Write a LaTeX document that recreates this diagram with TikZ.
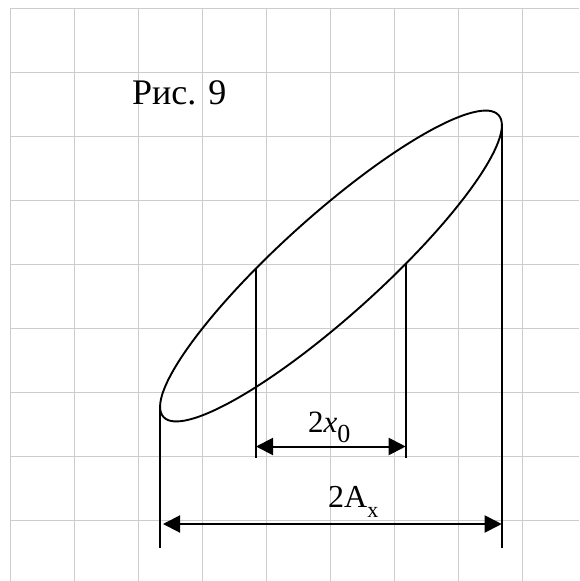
\documentclass[tikz,border=0pt]{standalone}
\usepackage{fontspec}
\setmainfont{Liberation Serif}
\usetikzlibrary{arrows.meta}
\definecolor{gridgray}{RGB}{204,204,204}
\begin{document}
\begin{tikzpicture}[x=1pt,y=-1pt,
  gridline/.style={line width=1.2pt, draw=gridgray},
  curve/.style={line width=1.9pt, draw=black},
  refline/.style={line width=1.6pt, draw=black},
  dimarrow/.style={line width=2pt, draw=black, {Triangle[length=17pt,width=17pt]}-{Triangle[length=17pt,width=17pt]}},
  label/.style={inner sep=0pt, anchor=base west}]
\useasboundingbox (0,0) rectangle (579,581);
% grid
\foreach \i in {0,...,8} {
  \draw[gridline] (10.3+64*\i,8.3) -- (10.3+64*\i,581);
  \draw[gridline] (10.3,8.3+64*\i) -- (579,8.3+64*\i);
}
% ellipse
\coordinate (c) at (331,266);
\draw[curve, rotate around={42:(c)}] (c) ellipse [x radius=225.5pt, y radius=50pt];
% reference lines
\coordinate (L1) at (160,407);
\coordinate (L2) at (160,548);
\coordinate (R1) at (501.7,125);
\coordinate (R2) at (501.7,548);
\coordinate (I1) at (256,269);
\coordinate (I2) at (256,458);
\coordinate (J1) at (405.7,263);
\coordinate (J2) at (405.7,458);
\draw[refline] (L1) -- (L2);
\draw[refline] (R1) -- (R2);
\draw[refline] (I1) -- (I2);
\draw[refline] (J1) -- (J2);
% dimension arrows
\coordinate (a1) at (256,446.5);
\coordinate (a2) at (405.7,446.5);
\coordinate (b1) at (163,524);
\coordinate (b2) at (501.7,524);
\draw[dimarrow] (a1) -- (a2);
\draw[dimarrow] (b1) -- (b2);
% labels
\node[label] (title) at (132,104) {\fontsize{36}{36}\selectfont Рис. 9};
\node[label] (lx) at (308,432) {\fontsize{31}{31}\selectfont 2\textit{x}\raisebox{-10pt}{\fontsize{26}{26}\selectfont 0}};
\node[label] (lA) at (328,507) {\fontsize{32}{32}\selectfont 2A\raisebox{-10pt}{\fontsize{22}{22}\selectfont x}};
\end{tikzpicture}
\end{document}
